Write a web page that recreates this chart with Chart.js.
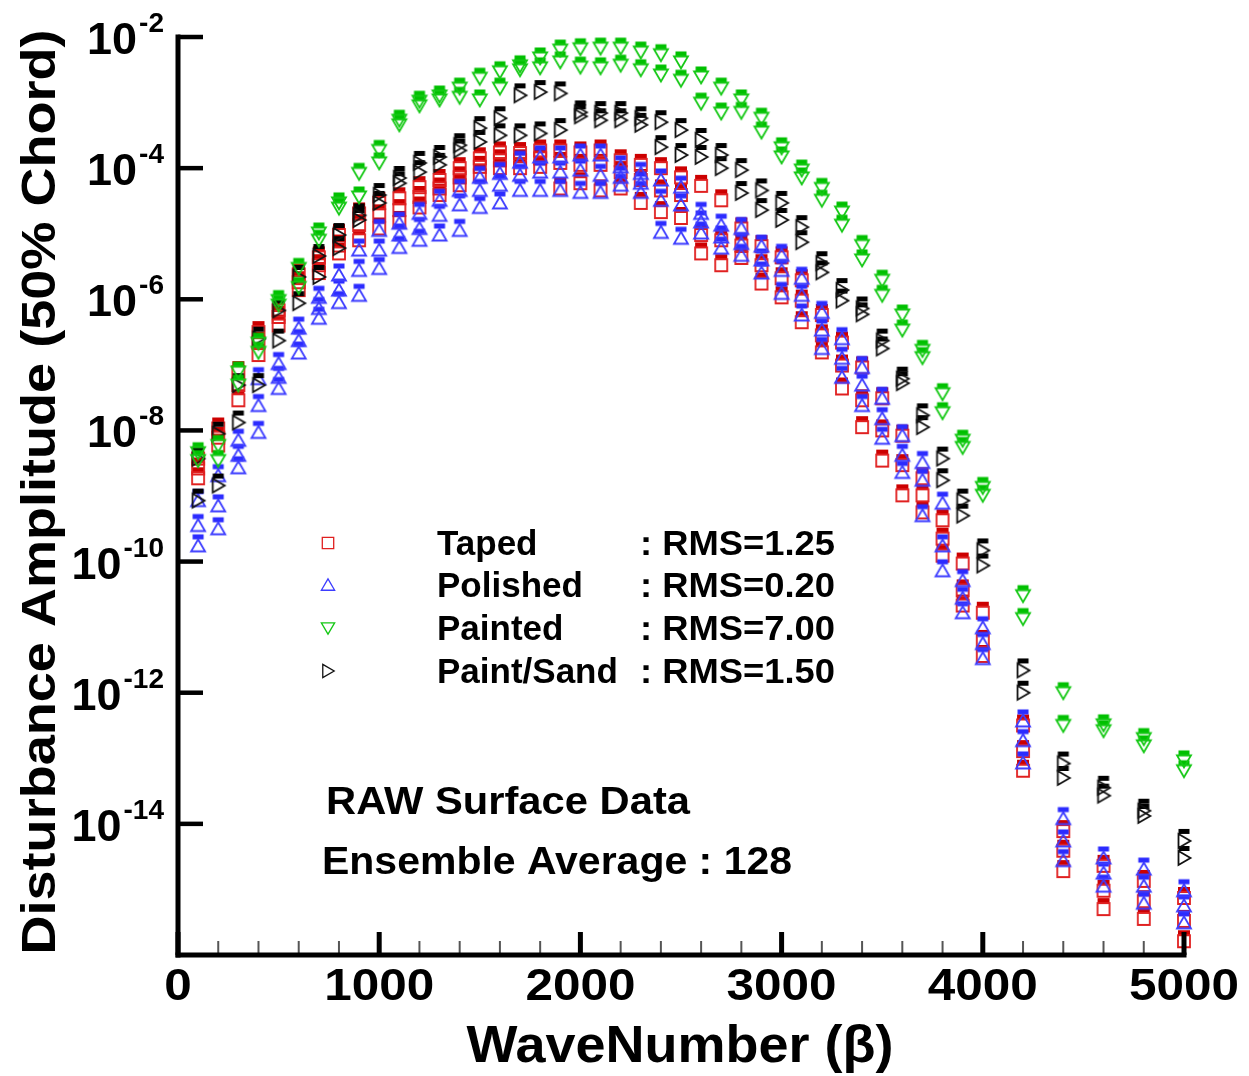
<!DOCTYPE html>
<html>
<head>
<meta charset="utf-8">
<script src="https://cdn.jsdelivr.net/npm/chart.js@4.4.0/dist/chart.umd.min.js"></script>
<style>
  html, body { margin: 0; padding: 0; background: #fff; }
</style>
</head>
<body>
<canvas id="chart" width="1249" height="1076"></canvas>
<script>
// wave numbers (beta) of every sample column
const waveNumbers = [
  100, 200, 300, 400, 500, 600, 700, 800, 900, 1000,
  1100, 1200, 1300, 1400, 1500, 1600, 1700, 1800, 1900, 2000,
  2100, 2200, 2300, 2400, 2500, 2600, 2700, 2800, 2900, 3000,
  3100, 3200, 3300, 3400, 3500, 3600, 3700, 3800, 3900, 4000,
  4200, 4400, 4600, 4800, 5000
];

// log10 of disturbance amplitude (upper / middle / lower members of each ensemble)
const tapedHi = [
  -8.43, -7.97, -7.11, -6.50, -6.17, -5.62, -5.36, -5.02, -4.69, -4.53,
  -4.46, -4.29, -4.18, -4.00, -3.85, -3.76, -3.77, -3.73, -3.73, -3.76,
  -3.73, -3.88, -3.95, -4.00, -4.14, -4.27, -4.49, -4.92, -5.19, -5.36,
  -5.71, -6.24, -6.66, -7.04, -7.51, -8.08, -8.73, -9.37, -10.03, -10.78,
  -12.50, -14.11, -14.64, -14.87, -15.13
];
const tapedMid = [
  -8.58, -8.11, -7.31, -6.66, -6.27, -5.74, -5.48, -5.18, -4.87, -4.72,
  -4.64, -4.44, -4.31, -4.14, -3.98, -3.88, -3.88, -3.85, -3.92, -3.95,
  -3.95, -4.06, -4.18, -4.34, -4.41, -5.02, -5.10, -5.18, -5.48, -5.68,
  -6.02, -6.55, -7.01, -7.54, -8.00, -8.53, -8.99, -9.65, -10.44, -11.21,
  -12.89, -14.41, -15.02, -15.18, -15.48
];
const tapedLo = [
  -8.73, -8.23, -7.54, -6.85, -6.40, -5.86, -5.60, -5.30, -5.10, -4.92,
  -4.82, -4.60, -4.41, -4.26, -4.11, -4.00, -4.00, -3.98, -4.31, -4.23,
  -4.34, -4.31, -4.53, -4.67, -4.76, -5.30, -5.48, -5.37, -5.76, -5.97,
  -6.35, -6.81, -7.36, -7.95, -8.46, -8.99, -9.25, -9.91, -10.67, -11.44,
  -13.19, -14.72, -15.30, -15.45, -15.79
];

const polishedHi = [
  -9.07, -8.69, -8.15, -7.21, -6.98, -6.44, -5.97, -5.63, -5.25, -4.95,
  -4.84, -4.69, -4.49, -4.34, -4.14, -4.08, -3.91, -3.83, -3.83, -3.80,
  -3.80, -3.98, -4.08, -4.18, -4.29, -4.69, -4.87, -4.92, -5.19, -5.33,
  -5.68, -6.20, -6.60, -7.04, -7.51, -8.08, -8.49, -9.11, -10.29, -11.01,
  -12.43, -13.92, -14.52, -14.69, -15.02
];
const polishedMid = [
  -9.45, -9.15, -8.38, -7.62, -7.19, -6.63, -6.14, -5.86, -5.56, -5.25,
  -5.02, -4.92, -4.72, -4.56, -4.34, -4.26, -4.11, -4.06, -4.06, -4.03,
  -4.11, -4.14, -4.23, -4.49, -4.56, -4.82, -5.05, -5.15, -5.40, -5.56,
  -5.94, -6.47, -6.90, -7.31, -7.82, -8.38, -8.76, -9.76, -10.56, -11.25,
  -12.73, -14.26, -14.75, -14.95, -15.25
];
const polishedLo = [
  -9.76, -9.50, -8.57, -8.03, -7.36, -6.82, -6.29, -6.05, -5.94, -5.53,
  -5.21, -5.10, -5.02, -4.95, -4.60, -4.53, -4.34, -4.34, -4.34, -4.37,
  -4.37, -4.26, -4.37, -4.98, -5.07, -4.99, -5.22, -5.33, -5.60, -5.91,
  -6.24, -6.75, -7.19, -7.62, -8.12, -8.64, -9.30, -10.14, -10.78, -11.48,
  -13.07, -14.56, -14.95, -15.21, -15.51
];

const paintedHi = [
  -8.34, -8.23, -7.11, -6.67, -6.02, -5.53, -4.99, -4.53, -4.08, -3.73,
  -3.27, -2.98, -2.90, -2.78, -2.63, -2.53, -2.44, -2.32, -2.20, -2.18,
  -2.17, -2.17, -2.23, -2.27, -2.38, -2.61, -2.78, -2.96, -3.24, -3.69,
  -4.03, -4.31, -4.67, -5.18, -5.71, -6.24, -6.78, -7.44, -8.15, -8.87,
  -10.52, -12.00, -12.49, -12.70, -13.04
];
const paintedLo = [
  -8.46, -8.46, -7.31, -6.81, -6.09, -5.82, -5.10, -4.61, -4.44, -3.92,
  -3.34, -3.05, -2.96, -2.92, -2.96, -2.78, -2.50, -2.47, -2.38, -2.46,
  -2.47, -2.43, -2.50, -2.58, -2.66, -3.01, -3.16, -3.15, -3.45, -3.83,
  -4.15, -4.49, -4.87, -5.40, -5.94, -6.47, -6.89, -7.73, -8.26, -8.99,
  -10.87, -12.50, -12.58, -12.81, -13.19
];

const sandHi = [
  -8.43, -8.05, -7.31, -6.60, -6.17, -5.66, -5.34, -5.02, -4.72, -4.41,
  -4.15, -3.92, -3.83, -3.65, -3.39, -3.24, -2.89, -2.84, -2.86, -3.15,
  -3.16, -3.16, -3.24, -3.30, -3.42, -3.57, -3.80, -4.03, -4.34, -4.53,
  -4.90, -5.45, -5.86, -6.14, -6.63, -7.21, -7.77, -8.43, -9.07, -9.83,
  -11.66, -13.08, -13.45, -13.80, -14.26
];
const sandLo = [
  -9.07, -8.84, -7.88, -7.31, -6.63, -6.06, -5.66, -5.22, -4.79, -4.53,
  -4.23, -4.06, -3.95, -3.73, -3.60, -3.50, -3.50, -3.47, -3.42, -3.21,
  -3.27, -3.27, -3.34, -3.68, -3.80, -3.83, -4.00, -4.38, -4.64, -4.79,
  -5.13, -5.59, -6.02, -6.23, -6.75, -7.28, -7.95, -8.76, -9.30, -10.06,
  -12.00, -13.30, -13.57, -13.88, -14.52
];

// axes
const xTicks = [0, 200, 400, 600, 800, 1000, 1200, 1400, 1600, 1800, 2000, 2200, 2400, 2600, 2800,
  3000, 3200, 3400, 3600, 3800, 4000, 4200, 4400, 4600, 4800, 5000];
const xLabelTicks = [0, 1000, 2000, 3000, 4000, 5000];
const xTickLabels = ['0', '1000', '2000', '3000', '4000', '5000'];
const yTicks = [1e-2, 1e-4, 1e-6, 1e-8, 1e-10, 1e-12, 1e-14];
const yTickExps = ['-2', '-4', '-6', '-8', '-10', '-12', '-14'];

const legendNames = ['Taped', 'Polished', 'Painted', 'Paint/Sand'];
const legendRms = [': RMS=1.25', ': RMS=0.20', ': RMS=7.00', ': RMS=1.50'];

const FONT = '"Liberation Sans", Arial, Helvetica, sans-serif';

function drawShape(g, shape, s) {
  g.beginPath();
  if (shape === 'square') {
    g.rect(-6 * s, -6 * s, 12 * s, 12 * s);
  } else if (shape === 'up') {
    g.moveTo(0, -6.5 * s); g.lineTo(7 * s, 5.5 * s); g.lineTo(-7 * s, 5.5 * s); g.closePath();
  } else if (shape === 'down') {
    g.moveTo(-7 * s, -5.5 * s); g.lineTo(7 * s, -5.5 * s); g.lineTo(0, 6.5 * s); g.closePath();
  } else {
    g.moveTo(-5.5 * s, -7 * s); g.lineTo(6.5 * s, 0); g.lineTo(-5.5 * s, 7 * s); g.closePath();
  }
  g.stroke();
}

// open marker with the small filled bar sitting on top of it
function makeMarker(shape, stroke, fill) {
  const c = document.createElement('canvas');
  c.width = 26; c.height = 44;
  const g = c.getContext('2d');
  g.translate(13, 22);
  g.fillStyle = fill;
  if (shape === 'square') g.fillRect(-6, -11, 12, 5);
  else if (shape === 'up') g.fillRect(-5.5, -11.5, 11, 5);
  else if (shape === 'down') g.fillRect(-5.5, -10.5, 11, 5);
  else g.fillRect(-5.5, -12, 11, 5);
  g.strokeStyle = stroke;
  g.lineWidth = 1.8;
  drawShape(g, shape, 1);
  return c;
}

const colors = {
  taped: ['#e02020', '#cc0000'],
  polished: ['#3c3cff', '#2b2bff'],
  painted: ['#14c814', '#00c000'],
  sand: ['#111111', '#000000']
};
const shapes = { taped: 'square', polished: 'up', painted: 'down', sand: 'right' };

const markers = {};
Object.keys(shapes).forEach(k => { markers[k] = makeMarker(shapes[k], colors[k][0], colors[k][1]); });

function series(vals, key) {
  return {
    data: waveNumbers.map((x, i) => ({ x: x, y: Math.pow(10, vals[i]) })),
    pointStyle: markers[key],
    pointRadius: 6,
    showLine: false,
    clip: false
  };
}

// first dataset is drawn on top
const datasets = [
  series(paintedHi, 'painted'), series(paintedLo, 'painted'),
  series(sandHi, 'sand'), series(sandLo, 'sand'),
  series(polishedHi, 'polished'), series(polishedMid, 'polished'), series(polishedLo, 'polished'),
  series(tapedHi, 'taped'), series(tapedMid, 'taped'), series(tapedLo, 'taped')
];

function text(ctx, s, x, y, size, width, align) {
  ctx.font = 'bold ' + size + 'px ' + FONT;
  const m = ctx.measureText(s).width;
  const k = width ? width / m : 1;
  const w = m * k;
  const left = align === 'center' ? x - w / 2 : (align === 'right' ? x - w : x);
  ctx.save();
  ctx.translate(left, y);
  ctx.scale(k, 1);
  ctx.textAlign = 'left';
  ctx.textBaseline = 'alphabetic';
  ctx.fillText(s, 0, 0);
  ctx.restore();
  return w;
}

function seg(ctx, x1, y1, x2, y2) {
  ctx.beginPath(); ctx.moveTo(x1, y1); ctx.lineTo(x2, y2); ctx.stroke();
}

const tecplotFrame = {
  id: 'tecplotFrame',
  afterDatasetsDraw(chart) {
    const ctx = chart.ctx;
    const xs = chart.scales.x, ys = chart.scales.y;
    const a = chart.chartArea;
    ctx.save();
    ctx.fillStyle = '#000';
    ctx.lineCap = 'butt';

    // minor x ticks
    ctx.strokeStyle = '#555';
    ctx.lineWidth = 2;
    xs.ticks.forEach(t => {
      if (xLabelTicks.indexOf(t.value) < 0) {
        const px = xs.getPixelForValue(t.value);
        seg(ctx, px, a.bottom, px, a.bottom - 14);
      }
    });
    // major x ticks + labels
    ctx.strokeStyle = '#000';
    ctx.lineWidth = 5;
    xLabelTicks.forEach((v, i) => {
      const px = xs.getPixelForValue(v);
      seg(ctx, px, a.bottom, px, a.bottom - 23);
      const lab = xTickLabels[i];
      text(ctx, lab, px, 1000, 45, lab.length * 27.5, 'center');
    });
    // y ticks + labels
    ctx.lineWidth = 4.5;
    ys.ticks.forEach((t, i) => {
      const py = ys.getPixelForValue(t.value);
      seg(ctx, a.left, py, a.left + 25, py);
      const ew = text(ctx, yTickExps[i], 164, py - 5, 28, null, 'right');
      text(ctx, '10', 162 - ew, py + 17, 44, 50, 'right');
    });
    // axis lines
    ctx.lineWidth = 5;
    seg(ctx, a.left, a.top - 2.5, a.left, a.bottom + 2.5);
    seg(ctx, a.left - 2.5, a.bottom, a.right + 2.5, a.bottom);

    // axis titles
    text(ctx, 'WaveNumber (\u03b2)', 680, 1062, 52, 427, 'center');
    ctx.save();
    ctx.translate(55, 492);
    ctx.rotate(-Math.PI / 2);
    text(ctx, 'Disturbance Amplitude (50% Chord)', 0, 0, 48, 925, 'center');
    ctx.restore();

    // legend
    const keys = ['taped', 'polished', 'painted', 'sand'];
    const rowY = [543, 585, 628, 671];
    keys.forEach((k, i) => {
      ctx.save();
      ctx.translate(328, rowY[i]);
      ctx.strokeStyle = colors[k][0];
      ctx.lineWidth = 1.3;
      drawShape(ctx, shapes[k], 0.95);
      ctx.restore();
      text(ctx, legendNames[i], 437, rowY[i] + 12, 35, null, 'left');
      text(ctx, legendRms[i], 640, rowY[i] + 12, 35, 195, 'left');
    });

    // annotations
    text(ctx, 'RAW Surface Data', 326, 814, 39, 364, 'left');
    text(ctx, 'Ensemble Average : 128', 322, 874, 39, 470, 'left');
    ctx.restore();
  }
};

new Chart(document.getElementById('chart'), {
  type: 'scatter',
  data: { datasets: datasets },
  options: {
    responsive: false,
    animation: false,
    devicePixelRatio: 1,
    events: [],
    layout: { padding: { left: 178, right: 65, top: 37, bottom: 121 } },
    plugins: { legend: { display: false }, tooltip: { enabled: false } },
    scales: {
      x: {
        type: 'linear', min: 0, max: 5000, display: false,
        afterBuildTicks: s => { s.ticks = xTicks.map(v => ({ value: v })); }
      },
      y: {
        type: 'logarithmic', min: 1e-16, max: 1e-2, display: false,
        afterBuildTicks: s => { s.ticks = yTicks.map(v => ({ value: v })); }
      }
    }
  },
  plugins: [tecplotFrame]
});
</script>
</body>
</html>
